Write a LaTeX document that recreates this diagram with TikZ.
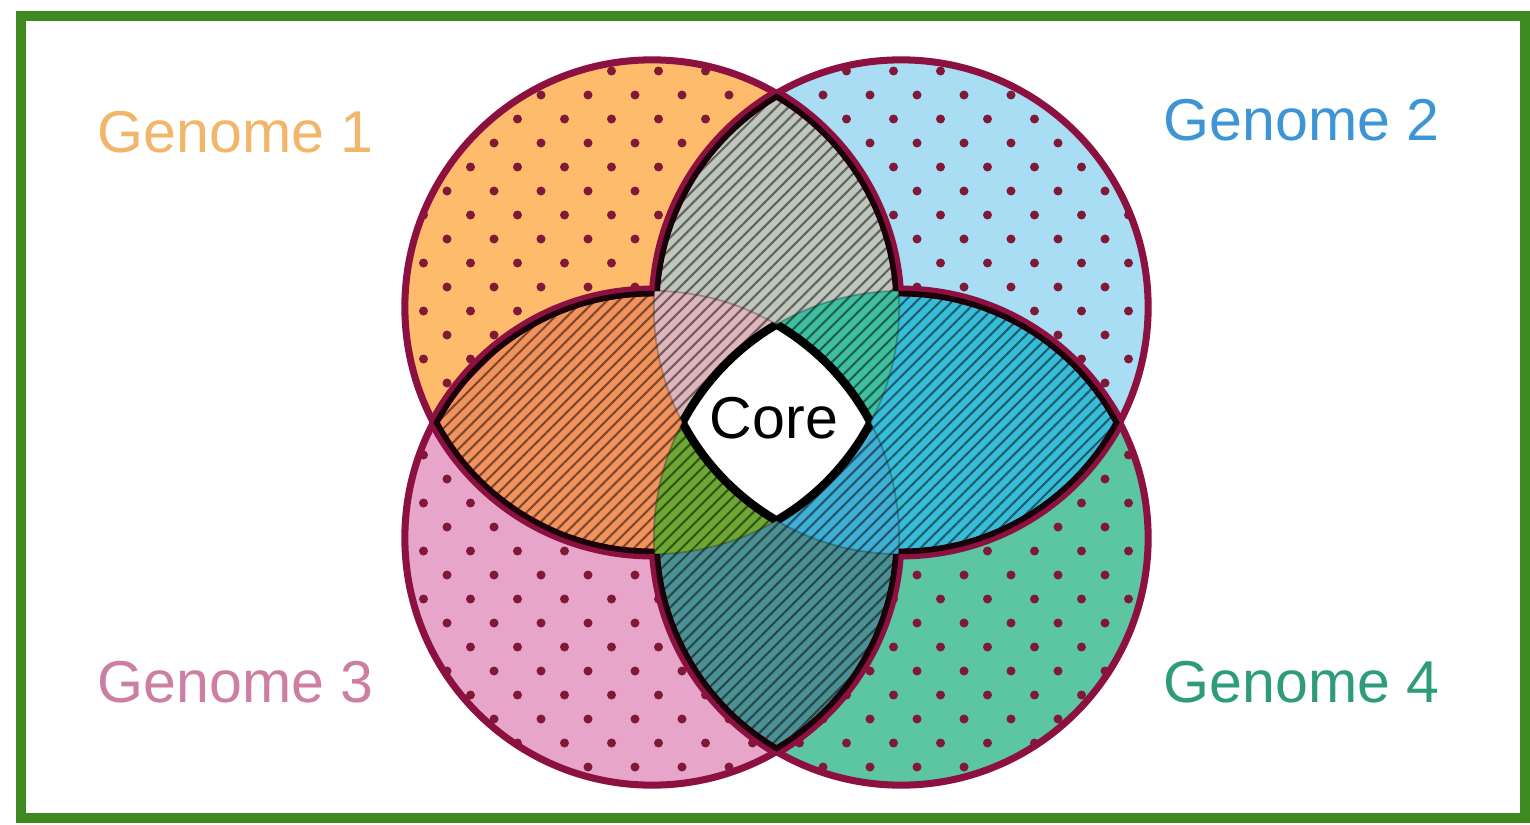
\documentclass[tikz,border=0pt]{standalone}
\usepackage{fontspec}
\setmainfont{Liberation Sans}
\usetikzlibrary{patterns.meta}
\definecolor{gOne}{HTML}{FDBB6B}
\definecolor{gTwo}{HTML}{A9DDF4}
\definecolor{gThree}{HTML}{E6A5C9}
\definecolor{gFour}{HTML}{5CC5A2}
\definecolor{dotcol}{HTML}{801838}
\definecolor{lOneTwo}{HTML}{BFC6BC}
\definecolor{lOneThree}{HTML}{F2925C}
\definecolor{lTwoFour}{HTML}{38BDD9}
\definecolor{lThreeFour}{HTML}{4B9094}
\definecolor{tA}{HTML}{DFB6BC}
\definecolor{tB}{HTML}{3EBF9F}
\definecolor{tC}{HTML}{6DA833}
\definecolor{tD}{HTML}{3FAFD6}
\definecolor{maroon}{HTML}{8C1040}
\definecolor{darkline}{HTML}{1A0008}
\definecolor{txtOne}{HTML}{F2B66A}
\definecolor{txtTwo}{HTML}{3D95D6}
\definecolor{txtThree}{HTML}{CC7FA2}
\definecolor{txtFour}{HTML}{2E9C7A}
\definecolor{frame}{HTML}{3E8A1F}
\def\R{2.47cm}
\newcommand\outclip[1]{\clip (0,0) rectangle (1530,824) (#1) circle[radius=\R];}
\newcommand\lensfill[4]{%
  \begin{scope}
    \clip (#1) circle[radius=\R];
    \fill[#3] (#2) circle[radius=\R];
    \fill[hatch=#4] (#2) circle[radius=\R];
  \end{scope}}
\newcommand\triplefill[4]{%
  \begin{scope}
    \clip (#1) circle[radius=\R];
    \clip (#2) circle[radius=\R];
    \fill[#4] (#3) circle[radius=\R];
    \fill[hatch=#4] (#3) circle[radius=\R];
  \end{scope}}
\tikzset{
  hatch/.style={pattern={Lines[angle=45,distance=2.4pt,line width=0.6pt]}, pattern color=#1!50!black},
  label/.style={inner sep=0pt, anchor=base west, font=\fontsize{16.8}{20}\selectfont},
}
\begin{document}
\begin{tikzpicture}[x=0.01cm,y=-0.01cm]
\useasboundingbox (0,0) rectangle (1530,824);
\fill[white] (0,0) rectangle (1530,824);
\coordinate (c1) at (652,307);
\coordinate (c2) at (901,307);
\coordinate (c3) at (652,538);
\coordinate (c4) at (901,538);
% base circles with dots
\foreach \c/\col/\ma/\mb/\na/\nb in {c1/gOne/1/23/8/19, c2/gTwo/1/23/13/24, c3/gThree/10/32/8/19, c4/gFour/10/32/13/24} {
  \fill[\col] (\c) circle[radius=\R];
  \begin{scope}
    \clip (\c) circle[radius=\R];
    \foreach \m in {\ma,...,\mb} {
      \foreach \n in {\na,...,\nb} {
        \fill[dotcol] ({0.5+47*\n+23.5*mod(\m,2)},{23+24*\m}) circle[radius=4.5];
      }
    }
  \end{scope}
}
% pairwise lenses
\lensfill{c1}{c2}{lOneTwo}{lOneTwo}
\lensfill{c1}{c3}{lOneThree}{lOneThree}
\lensfill{c2}{c4}{lTwoFour}{lTwoFour}
\lensfill{c3}{c4}{lThreeFour}{lThreeFour}
% triple regions
\triplefill{c1}{c2}{c3}{tA}
\triplefill{c1}{c2}{c4}{tB}
\triplefill{c1}{c3}{c4}{tC}
\triplefill{c2}{c3}{c4}{tD}
% faint region boundaries
\foreach \c in {c1,c2,c3,c4} {
  \draw[black, opacity=0.25, line width=0.5pt] (\c) circle[radius=\R];
}
% core
\begin{scope}
  \clip (c1) circle[radius=\R];
  \clip (c2) circle[radius=\R];
  \clip (c3) circle[radius=\R];
  \fill[white] (c4) circle[radius=\R];
\end{scope}
\foreach \i/\j/\k/\l in {c1/c2/c3/c4, c2/c1/c3/c4, c3/c1/c2/c4, c4/c1/c2/c3} {
  \begin{scope}
    \clip (\j) circle[radius=\R];
    \clip (\k) circle[radius=\R];
    \clip (\l) circle[radius=\R];
    \draw[black, line width=2.4pt] (\i) circle[radius=\R];
  \end{scope}
}
% outer circle outlines
\foreach \i/\j/\k/\l in {c1/c2/c3/c4, c2/c1/c3/c4, c3/c1/c2/c4, c4/c1/c2/c3} {
  \begin{scope}[even odd rule]
    \outclip{\j}
    \outclip{\k}
    \outclip{\l}
    \draw[maroon, line width=2pt] (\i) circle[radius=\R];
  \end{scope}
}
% lens outlines (boundary of the overlap area)
\foreach \i/\j/\k/\l in {c1/c2/c3/c4, c2/c1/c3/c4, c1/c3/c2/c4, c3/c1/c2/c4, c2/c4/c1/c3, c4/c2/c1/c3, c3/c4/c1/c2, c4/c3/c1/c2} {
  \begin{scope}[even odd rule]
    \clip (\j) circle[radius=\R];
    \outclip{\k}
    \outclip{\l}
    \draw[maroon, line width=3pt] (\i) circle[radius=\R];
    \clip (\i) circle[radius=\R];
    \draw[darkline, line width=3.2pt] (\i) circle[radius=\R];
  \end{scope}
}
% labels
\node[label, text=txtOne] (g1) at (97,152) {Genome 1};
\node[label, text=txtTwo] (g2) at (1163,140) {Genome 2};
\node[label, text=txtThree] (g3) at (97,702) {Genome 3};
\node[label, text=txtFour] (g4) at (1163,702) {Genome 4};
\node[inner sep=0pt, anchor=base, font=\fontsize{16.8}{20}\selectfont] (core) at (774,438) {Core};
% frame
\draw[frame, line width=2.8pt] (21,16) rectangle (1525,818);
\end{tikzpicture}
\end{document}
